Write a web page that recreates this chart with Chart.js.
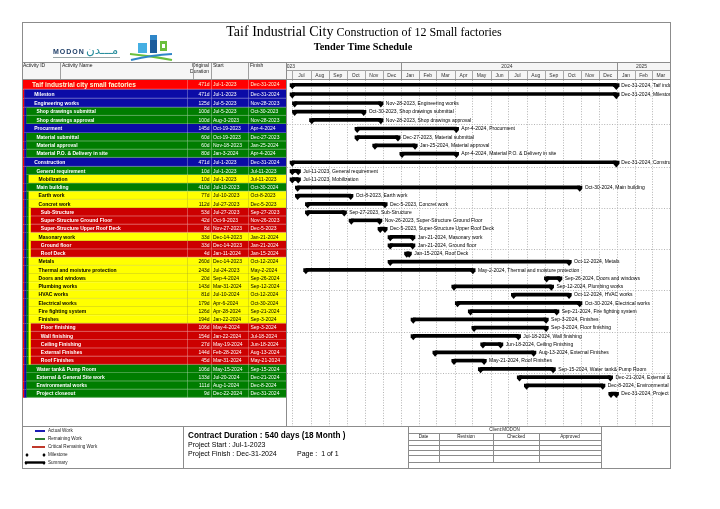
<!DOCTYPE html>
<html>
<head>
<meta charset="utf-8">
<title>Taif Industrial City - Tender Time Schedule</title>
<script src="https://cdn.jsdelivr.net/npm/chart.js@4.4.1/dist/chart.umd.min.js"></script>
<style>
html,body{margin:0;padding:0;background:#ffffff;overflow:hidden;}
canvas{display:block;}
</style>
</head>
<body>
<canvas id="chart" width="720" height="509"></canvas>
<script>
// ---------------- DATA ----------------
const activityNames = [
  'Taif industrial city small factories',
  'Mileston',
  'Engineering works',
  'Shop drawings submittal',
  'Shop drawings approval',
  'Procurment',
  'Material submittal',
  'Material approval',
  'Material P.O. & Delivery in site',
  'Construction',
  'General requirement',
  'Mobilization',
  'Main building',
  'Earth work',
  'Concret work',
  'Sub-Structure',
  'Super-Structure Ground Floor',
  'Super-Structure Upper Roof Deck',
  'Masonary work',
  'Ground floor',
  'Roof Deck',
  'Metals',
  'Thermal and moisture protection',
  'Doors and windows',
  'Plumbing works',
  'HVAC works',
  'Electrical works',
  'Fire fighting system',
  'Finishes',
  'Floor finishing',
  'Wall finishing',
  'Ceiling Finishing',
  'External Finishes',
  'Roof Finishes',
  'Water tank& Pump Room',
  'External & General Site work',
  'Environmental works',
  'Project closeout'
];
const originalDurations = ['471d','471d','125d','100d','100d','145d','60d','60d','80d','471d',
  '10d','10d','410d','77d','112d','53d','42d','8d','33d','33d','4d','260d','243d','20d','143d',
  '81d','179d','126d','194d','106d','154d','27d','144d','45d','106d','133d','111d','9d'];
const startDates = ['Jul-1-2023','Jul-1-2023','Jul-5-2023','Jul-5-2023','Aug-3-2023','Oct-19-2023',
  'Oct-19-2023','Nov-18-2023','Jan-3-2024','Jul-1-2023','Jul-1-2023','Jul-1-2023','Jul-10-2023',
  'Jul-10-2023','Jul-27-2023','Jul-27-2023','Oct-9-2023','Nov-27-2023','Dec-14-2023','Dec-14-2023',
  'Jan-11-2024','Dec-14-2023','Jul-24-2023','Sep-4-2024','Mar-31-2024','Jul-10-2024','Apr-6-2024',
  'Apr-28-2024','Jan-22-2024','May-4-2024','Jan-22-2024','May-19-2024','Feb-28-2024','Mar-31-2024',
  'May-15-2024','Jul-20-2024','Aug-1-2024','Dec-22-2024'];
const finishDates = ['Dec-31-2024','Dec-31-2024','Nov-28-2023','Oct-30-2023','Nov-28-2023','Apr-4-2024',
  'Dec-27-2023','Jan-25-2024','Apr-4-2024','Dec-31-2024','Jul-11-2023','Jul-11-2023','Oct-30-2024',
  'Oct-8-2023','Dec-5-2023','Sep-27-2023','Nov-26-2023','Dec-5-2023','Jan-21-2024','Jan-21-2024',
  'Jan-15-2024','Oct-12-2024','May-2-2024','Sep-26-2024','Sep-12-2024','Oct-12-2024','Oct-30-2024',
  'Sep-21-2024','Sep-3-2024','Sep-3-2024','Jul-18-2024','Jun-18-2024','Aug-13-2024','May-21-2024',
  'Sep-15-2024','Dec-21-2024','Dec-8-2024','Dec-31-2024'];
const wbsLevels = [0,1,1,2,2,1,2,2,2,1,2,3,2,3,3,4,4,4,3,4,4,3,3,3,3,3,3,3,3,4,4,4,4,4,2,2,2,2];

const monthNames = ['Jan','Feb','Mar','Apr','May','Jun','Jul','Aug','Sep','Oct','Nov','Dec'];
const yearLabels = ['2023','2024','2025'];
const axisStart = 'Jun-22-2023';
const axisEnd = 'Apr-1-2025';

const columnHeaders = ['Activity ID','Activity Name','Original','Duration','Start','Finish'];
const legendLabels = ['Actual Work','Remaining Work','Critical Remaining Work','Milestone','Summary'];
const titleMain = 'Taif Industrial City';
const titleRest = ' Construction of 12 Small factories';
const subTitle = 'Tender Time Schedule';
const contractText = 'Contract Duration : 540 days (18 Month )';
const projectStartText = 'Project Start : Jul-1-2023';
const projectFinishText = 'Project Finish : Dec-31-2024';
const pageText = 'Page :  1 of 1';
const approvalHeaders = ['Date','Revision','Checked','Approved'];
const clientText = 'Client:MODON';

// ---------------- HELPERS ----------------
const SANS = '"Liberation Sans", Arial, Helvetica, sans-serif';
const SERIF = '"Liberation Serif", "Times New Roman", serif';
const EPOCH = Date.UTC(2023, 6, 1);
function dayOf(s) {
  const p = s.split('-');
  return (Date.UTC(+p[2], monthNames.indexOf(p[0]), +p[1]) - EPOCH) / 86400000;
}

const FRAME = {l: 22, t: 22, r: 670, b: 468};
const HEAD_TOP = 62, HEAD_MID = 70, HEAD_BOT = 80, BODY_BOT = 426;
const COL = {name: 60, dur: 187, start: 211, finish: 248, gantt: 286.5};
const IND = 2.2;
const UNIT_PX = 8.25;
const rowUnits = wbsLevels.map(l => l === 0 ? 1.15 : (l === 1 ? 1.09 : 1));
const rowTop = [];
let acc = 0;
rowUnits.forEach(u => { rowTop.push(acc); acc += u; });
const rowMid = rowTop.map((t, i) => t + rowUnits[i] / 2);

const PAD = {left: 287, right: 720 - FRAME.r, top: HEAD_BOT, bottom: 509 - BODY_BOT};
const yMax = (509 - PAD.top - PAD.bottom) / UNIT_PX;

const LEVEL_FILL = ['#ff0000', '#0b0ba6', '#007d00', '#ffff00', '#cc0000'];
const LEVEL_TEXT = ['#fff6d0', '#ffffff', '#ffffff', '#000000', '#ffffff'];

function hline(c, x0, x1, y) { c.beginPath(); c.moveTo(x0, y); c.lineTo(x1, y); c.stroke(); }
function vline(c, x, y0, y1) { c.beginPath(); c.moveTo(x, y0); c.lineTo(x, y1); c.stroke(); }

function drawLogo(c) {
  c.save();
  c.fillStyle = '#45afe3'; c.fillRect(138, 43, 9, 10);
  c.fillStyle = '#1c5c9c'; c.fillRect(150, 35, 7, 18);
  c.fillStyle = '#2f86c8'; c.fillRect(150, 35, 7, 5);
  c.fillStyle = '#6abf3c'; c.fillRect(160, 41, 7, 10);
  c.fillStyle = '#ffffff'; c.fillRect(162, 44, 3, 4);
  c.lineWidth = 2;
  c.strokeStyle = '#6abf3c';
  c.beginPath(); c.moveTo(130, 54); c.quadraticCurveTo(152, 56, 172, 60); c.stroke();
  c.strokeStyle = '#2f86c8';
  c.beginPath(); c.moveTo(131, 60); c.quadraticCurveTo(152, 55, 172, 54); c.stroke();
  c.fillStyle = '#1f3f68';
  c.font = 'bold 7px ' + SANS;
  c.letterSpacing = '1px';
  c.textBaseline = 'alphabetic';
  c.fillText('MODON', 53, 54);
  c.letterSpacing = '0px';
  c.fillStyle = '#2a8f9e';
  c.font = '12px "DejaVu Sans", sans-serif';
  c.fillText('\u0645\u0640\u0640\u0640\u062f\u0646', 86, 54);
  c.strokeStyle = '#9aa7a8'; c.lineWidth = 1.2;
  hline(c, 53, 120, 57.5);
  c.restore();
}

// ---------------- PLUGIN ----------------
const scheduleFrame = {
  id: 'scheduleFrame',
  beforeDraw(chart) {
    const c = chart.ctx, xs = chart.scales.x, ys = chart.scales.y, ca = chart.chartArea;
    c.save();
    c.fillStyle = '#ffffff'; c.fillRect(0, 0, 720, 509);

    drawLogo(c);
    c.fillStyle = '#000';
    c.textBaseline = 'alphabetic';
    c.font = '14px ' + SERIF;
    const w1 = c.measureText(titleMain).width;
    c.font = '12px ' + SERIF;
    const w2 = c.measureText(titleRest).width;
    const tx = 364 - (w1 + w2) / 2;
    c.font = '14px ' + SERIF; c.fillText(titleMain, tx, 36);
    c.font = '12px ' + SERIF; c.fillText(titleRest, tx + w1, 36);
    c.font = 'bold 10.3px ' + SERIF; c.textAlign = 'center';
    c.fillText(subTitle, 363, 50);
    c.textAlign = 'left';

    c.fillStyle = '#f5f5f5';
    c.fillRect(FRAME.l, HEAD_TOP, FRAME.r - FRAME.l, HEAD_BOT - HEAD_TOP);

    c.fillStyle = '#222'; c.font = '5px ' + SANS; c.textBaseline = 'middle';
    c.fillText(columnHeaders[0], 23, 66);
    c.fillText(columnHeaders[1], 62, 66);
    c.textAlign = 'right';
    c.fillText(columnHeaders[2], 209, 66);
    c.fillText(columnHeaders[3], 209, 71.5);
    c.textAlign = 'left';
    c.fillText(columnHeaders[4], 213, 66);
    c.fillText(columnHeaders[5], 250, 66);
    c.strokeStyle = '#a0a0a0'; c.lineWidth = 1;
    [COL.name, COL.dur + 6, COL.start, COL.finish].forEach(x => vline(c, Math.round(x) + 0.5, HEAD_TOP, HEAD_BOT));

    const dLeft = xs.min, dRight = xs.max;
    c.save();
    c.beginPath(); c.rect(ca.left, HEAD_TOP, ca.right - ca.left, BODY_BOT - HEAD_TOP); c.clip();
    c.strokeStyle = '#a0a0a0'; c.lineWidth = 1;
    hline(c, ca.left, ca.right, HEAD_MID + 0.5);
    c.font = '5px ' + SANS; c.fillStyle = '#333'; c.textAlign = 'center'; c.textBaseline = 'middle';
    for (let y = 2023; y <= 2025; y++) {
      for (let m = 0; m < 12; m++) {
        const d0 = (Date.UTC(y, m, 1) - EPOCH) / 86400000;
        const d1 = (Date.UTC(y, m + 1, 1) - EPOCH) / 86400000;
        if (d1 <= dLeft || d0 >= dRight) continue;
        const x0 = xs.getPixelForValue(d0), x1 = xs.getPixelForValue(d1);
        if (d0 >= dLeft) {
          c.strokeStyle = m === 0 ? '#909090' : '#a8a8a8'; c.setLineDash([]);
          vline(c, Math.round(x0) + 0.5, m === 0 ? HEAD_TOP : HEAD_MID, HEAD_BOT);
          c.strokeStyle = '#b4b4b4'; c.setLineDash([1, 1.6]);
          vline(c, Math.round(x0) + 0.5, HEAD_BOT, BODY_BOT);
          c.setLineDash([]);
          c.fillText(monthNames[m], (x0 + x1) / 2, (HEAD_MID + HEAD_BOT) / 2 + 0.5);
        }
      }
    }
    yearLabels.forEach((yl, k) => {
      const y = +yl;
      const d0 = Math.max(dLeft, (Date.UTC(y, 0, 1) - EPOCH) / 86400000);
      const d1 = Math.min(dRight, (Date.UTC(y + 1, 0, 1) - EPOCH) / 86400000);
      const x0 = xs.getPixelForValue(d0), x1 = xs.getPixelForValue(d1);
      if (k === 0) { c.textAlign = 'left'; c.fillText(yl, x0 - 3, (HEAD_TOP + HEAD_MID) / 2 + 0.5); c.textAlign = 'center'; }
      else c.fillText(yl, (x0 + x1) / 2 - 2, (HEAD_TOP + HEAD_MID) / 2 + 0.5);
    });
    c.strokeStyle = '#b4b4b4'; c.setLineDash([1, 1.6]);
    for (let i = 5; i < rowTop.length; i += 5) {
      const y = Math.round(ys.getPixelForValue(rowTop[i])) + 0.5;
      hline(c, ca.left, ca.right, y);
    }
    c.setLineDash([]);
    c.restore();

    activityNames.forEach((name, i) => {
      const L = wbsLevels[i];
      const y0 = ys.getPixelForValue(rowTop[i]);
      const y1 = ys.getPixelForValue(rowTop[i] + rowUnits[i]);
      for (let k = 0; k < L; k++) {
        c.fillStyle = LEVEL_FILL[k];
        c.fillRect(FRAME.l + k * IND, y0, IND + 0.4, y1 - y0);
      }
      const bx = FRAME.l + L * IND;
      c.fillStyle = LEVEL_FILL[L];
      c.fillRect(bx, y0, COL.gantt - bx, y1 - y0);
      c.strokeStyle = L === 3 ? 'rgba(150,150,40,0.45)' : 'rgba(255,255,255,0.4)';
      c.lineWidth = 0.7;
      hline(c, bx, COL.gantt, y1 - 0.35);
      [COL.dur, COL.start, COL.finish].forEach(x => vline(c, x + 0.5, y0, y1));
      c.fillStyle = LEVEL_TEXT[L];
      c.textBaseline = 'middle'; c.textAlign = 'left';
      const ym = (y0 + y1) / 2 + 0.3;
      c.font = (L === 0 ? 'bold 6.6px ' : 'bold 5px ') + SANS;
      c.fillText(name, 32 + IND * L, ym);
      c.font = '5px ' + SANS;
      c.textAlign = 'right'; c.fillText(originalDurations[i], 209.5, ym);
      c.textAlign = 'left';
      c.fillText(startDates[i], 213, ym);
      c.fillText(finishDates[i], 250.5, ym);
    });

    c.strokeStyle = '#8c8c8c'; c.lineWidth = 1; c.setLineDash([]);
    c.strokeRect(FRAME.l + 0.5, FRAME.t + 0.5, FRAME.r - FRAME.l, FRAME.b - FRAME.t);
    hline(c, FRAME.l, FRAME.r, HEAD_TOP + 0.5);
    hline(c, FRAME.l, FRAME.r, HEAD_BOT - 0.5);
    hline(c, FRAME.l, FRAME.r, BODY_BOT + 0.5);
    vline(c, COL.gantt, HEAD_TOP, BODY_BOT);
    c.restore();
  },

  afterDatasetsDraw(chart) {
    const c = chart.ctx, ca = chart.chartArea;
    const meta = chart.getDatasetMeta(0);
    c.save();
    c.beginPath(); c.rect(ca.left, ca.top, ca.right - ca.left, ca.bottom - ca.top); c.clip();
    c.fillStyle = '#000';
    c.font = '5px ' + SANS; c.textBaseline = 'middle'; c.textAlign = 'left';
    meta.data.forEach((el, i) => {
      const p = el.getProps(['x', 'y', 'base', 'height'], true);
      const xa = Math.min(p.x, p.base), xb = Math.max(p.x, p.base);
      const top = p.y - p.height / 2, bot = p.y + p.height / 2;
      const big = wbsLevels[i] <= 1 && (xb - xa) > 200;
      [xa, xb].forEach((x, k) => {
        const hw = (big && k === 1) ? 3.2 : 2.6;
        const dep = (big && k === 1) ? 3.8 : 3;
        c.beginPath();
        c.moveTo(x - hw, top); c.lineTo(x + hw, top); c.lineTo(x + hw, bot);
        c.lineTo(x, bot + dep); c.lineTo(x - hw, bot); c.closePath(); c.fill();
      });
      c.fillText(finishDates[i] + ', ' + activityNames[i], xb + 5, p.y + 0.4);
    });
    c.restore();
  },

  afterDraw(chart) {
    const c = chart.ctx;
    c.save();
    c.strokeStyle = '#8c8c8c'; c.lineWidth = 1;
    vline(c, 183.5, BODY_BOT, FRAME.b);
    const ly = [431, 439, 447, 455, 462.5];
    c.lineWidth = 2;
    c.strokeStyle = '#1b1bb4'; hline(c, 35, 45, ly[0]);
    c.strokeStyle = '#2e7d32'; hline(c, 35, 45, ly[1]);
    c.strokeStyle = '#c0392b'; hline(c, 32, 45, ly[2]);
    c.fillStyle = '#000';
    [27, 44].forEach(x => {
      c.beginPath(); c.moveTo(x, ly[3] - 2); c.lineTo(x + 1.6, ly[3]); c.lineTo(x, ly[3] + 2); c.lineTo(x - 1.6, ly[3]); c.closePath(); c.fill();
    });
    c.fillRect(25, ly[4] - 1.2, 20, 2.4);
    [26, 44].forEach(x => { c.beginPath(); c.moveTo(x - 1.8, ly[4]); c.lineTo(x + 1.8, ly[4]); c.lineTo(x, ly[4] + 2.6); c.closePath(); c.fill(); });
    c.font = '4.6px ' + SANS; c.fillStyle = '#222'; c.textBaseline = 'middle'; c.textAlign = 'left';
    legendLabels.forEach((t, k) => c.fillText(t, 48, ly[k]));

    c.fillStyle = '#000';
    c.textBaseline = 'alphabetic';
    c.font = 'bold 8.2px ' + SANS; c.fillText(contractText, 188, 437.5);
    c.font = '7px ' + SANS;
    c.fillText(projectStartText, 188, 446.5);
    c.fillText(projectFinishText, 188, 456);
    c.fillText(pageText, 297, 456);

    const tx = [408, 439, 493, 539, 601];
    const tyRows = [433, 440, 445, 450, 455, 462];
    c.strokeStyle = '#8c8c8c'; c.lineWidth = 1;
    vline(c, tx[0] + 0.5, BODY_BOT, FRAME.b);
    vline(c, tx[4] + 0.5, BODY_BOT, FRAME.b);
    tyRows.forEach(y => hline(c, tx[0], tx[4], y + 0.5));
    [tx[1], tx[2], tx[3]].forEach(x => vline(c, x + 0.5, 433, 462));
    c.font = '4.6px ' + SANS; c.fillStyle = '#222'; c.textAlign = 'center'; c.textBaseline = 'middle';
    c.fillText(clientText, (tx[0] + tx[4]) / 2, 430);
    approvalHeaders.forEach((h, k) => c.fillText(h, (tx[k] + tx[k + 1]) / 2, 436.8));
    c.restore();
  }
};

// ---------------- CHART ----------------
const barData = activityNames.map((n, i) => ({
  x: [dayOf(startDates[i]), dayOf(finishDates[i])],
  y: rowMid[i]
}));

new Chart(document.getElementById('chart'), {
  type: 'bar',
  data: {
    datasets: [{
      label: 'Summary',
      data: barData,
      backgroundColor: '#000000',
      borderWidth: 0,
      barThickness: 3,
      grouped: false
    }]
  },
  options: {
    indexAxis: 'y',
    responsive: false,
    animation: false,
    devicePixelRatio: 1,
    layout: {padding: PAD},
    plugins: {legend: {display: false}, tooltip: {enabled: false}},
    scales: {
      x: {type: 'linear', min: dayOf(axisStart), max: dayOf(axisEnd), display: false, offset: false},
      y: {type: 'linear', min: 0, max: yMax, reverse: true, display: false, offset: false}
    }
  },
  plugins: [scheduleFrame]
});
</script>
</body>
</html>
